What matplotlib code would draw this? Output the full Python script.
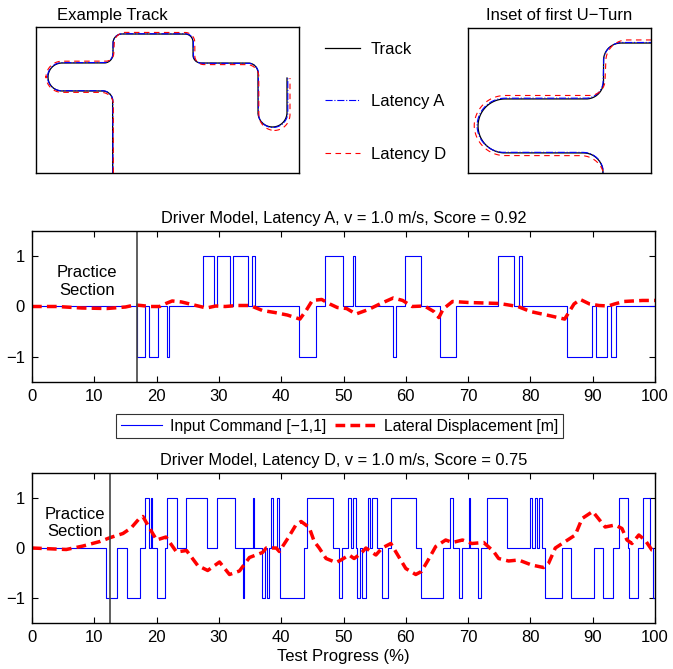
import numpy as np
import matplotlib.pyplot as plt
from matplotlib.lines import Line2D

plt.rcParams['font.family'] = ['Liberation Sans', 'DejaVu Sans']
plt.rcParams['font.size'] = 12

# ---- track geometry: corner points and fillet radius at each corner ----
track_x = [76.7, 76.7, 12, 12, 77, 77, 157, 157, 222, 222, 251, 251]
track_y = [0, 82, 82, 110, 110, 139, 139, 110, 110, 46, 46, 95]
track_r = [0, 10, 14, 14, 9, 9, 8, 8, 10, 14.5, 14.5, 0]

latA_x = [76.9, 76.9, 11.5, 11.5, 76.6, 77.3, 157.4, 157.4, 222.4, 222.4, 251.8, 251.8]
latA_y = [0, 82.3, 82.3, 110.4, 110.4, 139.3, 139.3, 109.7, 109.7, 45.5, 45.5, 95]
latA_r = [0, 10.5, 14, 14.5, 9, 9.5, 8, 8.5, 10, 14.5, 15, 0]

latD_x = [77.4, 77.4, 10.0, 10.0, 77.5, 78.6, 158.8, 158.8, 222.8, 222.8, 254.0, 254.0]
latD_y = [0, 80.6, 80.6, 111.8, 111.8, 140.6, 140.6, 108.4, 108.4, 42.5, 42.5, 95]
latD_r = [0, 12, 16, 16, 8, 11, 10, 9, 12, 16, 16, 0]

# ---- driver model, latency A ----
midA_t = [0, 16.9, 18.1, 18.8, 20.2, 21.6, 22.0, 27.5, 29.2, 29.75, 31.8, 32.3, 34.6,
          35.3, 35.85, 42.9, 45.6, 47.0, 49.84, 51.45, 51.9, 57.9, 58.4, 59.8, 62.4,
          65.5, 68.0, 74.8, 77.3, 78.2, 78.7, 85.9, 89.9, 90.5, 92.3, 93.0, 93.7, 100]
midA_cmd = [0, -1, 0, -1, 0, -1, 0, 1, 0, 1, 0, 1, 0,
            1, 0, -1, 0, 1, 0, 1, 0, -1, 0, 1, 0,
            -1, 0, 1, 0, 1, 0, -1, 0, -1, 0, -1, 0, 0]
midA_px = [0, 4, 8, 12, 15, 16.5, 17.5, 19, 20.5, 21.5, 22.5, 24, 26, 28, 29.5, 31, 33,
           35, 37, 39, 41, 43, 44, 45, 46.5, 47.8, 49, 50.5, 52, 54, 56, 58, 59.5, 61,
           63, 64.5, 65.3, 66, 67.5, 70, 75, 78, 80, 83, 85.5, 87, 88, 89.5, 91, 92.5,
           93.5, 95, 98, 100]
midA_disp = [0, 0, -0.03, -0.04, -0.01, 0.03, 0.02, 0.0, 0.0, 0.06, 0.11, 0.09, 0.03,
             -0.03, 0.01, 0.0, 0.02, 0.02, -0.08, -0.12, -0.17, -0.25, -0.08, 0.12,
             0.14, 0.05, -0.02, -0.04, -0.15, -0.06, 0.06, 0.17, 0.12, 0.0, 0.01, -0.1,
             -0.22, -0.05, 0.1, 0.08, 0.06, 0.0, -0.1, -0.18, -0.25, 0.05, 0.14, 0.05,
             0.02, 0.01, 0.05, 0.1, 0.12, 0.12]

# ---- driver model, latency D ----
botD_t = [0, 11.9, 13.7, 15.3, 17.3, 18.1, 18.8, 19.05, 19.2, 20.0,
          21.4, 21.7, 23.3, 24.7, 28.1, 29.7, 32.6, 33.8, 34.1, 35.4,
          35.7, 36.9, 37.4, 37.8, 38.1, 38.4, 38.7, 39.3, 39.6, 39.8,
          43.6, 44.2, 48.3, 49.3, 49.7, 50.7, 51.2, 51.5, 52.0, 52.2,
          52.7, 52.9, 53.6, 54.0, 54.3, 54.5, 55.4, 56.1, 57.1, 57.7,
          61.7, 62.5, 66.0, 67.1, 67.5, 68.6, 69.0, 70.2, 70.35, 71.6,
          72.0, 73.1, 76.3, 79.9, 80.2, 80.8, 81.0, 81.4, 81.9, 82.3,
          85.1, 86.5, 90.2, 91.6, 93.3, 94.2, 95.6, 95.8, 97.3, 98.0,
          99.2, 99.6, 100]
botD_cmd = [0, -1, 0, -1, 0, 1, 0, 1, 0, -1,
            0, 1, 0, 1, 0, 1, 0, -1, 0, 1,
            0, -1, 0, -1, 0, 1, 0, 1, 0, -1,
            0, 1, 0, -1, 0, 1, 0, 1, 0, -1,
            0, -1, 0, 1, 0, 1, 0, -1, 0, 1,
            0, -1, 0, 1, 0, -1, 0, 1, 0, -1,
            0, 1, 0, 1, 0, 1, 0, 1, 0, -1,
            0, -1, 0, -1, 0, 1, 0, -1, 0, 1,
            0, -1, -1]
botD_px = [0, 5.5, 8.2, 10.9, 12.6, 14.6, 15.9, 17.3, 17.8, 18.9,
           20.0, 21.5, 23.2, 24.8, 26.6, 28.2, 30.1, 31.7, 33.3, 34.9,
           37.0, 37.6, 39.2, 39.7, 41.1, 42.4, 43.2, 44.5, 45.3, 46.1,
           47.2, 48.8, 49.6, 50.9, 51.7, 52.8, 53.6, 55.2, 56.2, 57.6,
           58.7, 60.0, 61.6, 62.5, 63.5, 64.8, 66.4, 67.5, 69.1, 70.6,
           72.5, 74.1, 74.9, 76.5, 78.1, 80.2, 82.1, 82.9, 84.0, 85.6,
           87.2, 88.3, 90.0, 92.0, 93.6, 94.7, 95.5, 96.3, 97.4, 98.4,
           99.5, 100]
botD_disp = [0, -0.03, 0.04, 0.13, 0.21, 0.29, 0.4, 0.6, 0.63, 0.39,
             0.16, 0.22, -0.08, -0.05, -0.35, -0.45, -0.28, -0.53, -0.46, -0.19,
             -0.09, 0.0, 0.0, -0.07, 0.2, 0.47, 0.53, 0.41, 0.13, 0.0,
             -0.21, -0.29, -0.24, -0.14, -0.21, -0.11, 0.0, -0.14, 0.0, 0.09,
             -0.14, -0.41, -0.53, -0.47, -0.26, 0.03, 0.16, 0.11, 0.16, 0.09,
             0.11, -0.07, -0.21, -0.26, -0.24, -0.34, -0.39, -0.31, 0.0, 0.13,
             0.26, 0.59, 0.73, 0.42, 0.46, 0.39, 0.16, 0.09, 0.26, 0.16,
             -0.04, -0.05]

practice_A = 16.9
practice_D = 12.6


def fillet_path(xs, ys, rs, n=24):
    # polyline with rounded corners
    pts = np.column_stack([xs, ys]).astype(float)
    out = [pts[0]]
    for i in range(1, len(pts) - 1):
        p, a, b = pts[i], pts[i - 1], pts[i + 1]
        r = rs[i]
        u1 = (a - p) / np.linalg.norm(a - p)
        u2 = (b - p) / np.linalg.norm(b - p)
        cosang = np.clip(np.dot(u1, u2), -1, 1)
        ang = np.arccos(cosang)
        if r <= 0 or ang > np.pi - 1e-3:
            out.append(p)
            continue
        d = r / np.tan(ang / 2)
        bis = (u1 + u2) / np.linalg.norm(u1 + u2)
        c = p + bis * r / np.sin(ang / 2)
        s = p + u1 * d
        e = p + u2 * d
        a0 = np.arctan2(s[1] - c[1], s[0] - c[0])
        a1 = np.arctan2(e[1] - c[1], e[0] - c[0])
        da = (a1 - a0 + np.pi) % (2 * np.pi) - np.pi
        th = a0 + np.linspace(0, da, n)
        out.extend(np.column_stack([c[0] + r * np.cos(th), c[1] + r * np.sin(th)]))
    out.append(pts[-1])
    out = np.array(out)
    return out[:, 0], out[:, 1]


fig = plt.figure(figsize=(6.73, 6.69), dpi=100)

paths = [(track_x, track_y, track_r, dict(color='k', lw=0.9, ls='-')),
         (latA_x, latA_y, latA_r, dict(color='b', lw=0.8, ls='-.')),
         (latD_x, latD_y, latD_r, dict(color='r', lw=0.8, ls=(0, (5, 4))))]

ax1 = fig.add_axes([36 / 673, 1 - 173 / 669, 263 / 673, 146 / 669])
ax2 = fig.add_axes([468 / 673, 1 - 173 / 669, 183 / 673, 145 / 669])
for ax in (ax1, ax2):
    for xs, ys, rs, st in paths:
        px, py = fillet_path(xs, ys, rs)
        ax.plot(px, py, **st)
    ax.set_xticks([])
    ax.set_yticks([])
    for sp in ax.spines.values():
        sp.set_linewidth(1.0)
ax1.set_xlim(0, 263)
ax1.set_ylim(0, 146)
ax1.set_title('Example Track', fontsize=12, pad=5, x=(112.5 - 36) / 263)
ax2.set_xlim(6.8, 101.6)
ax2.set_ylim(71.6, 146.8)
ax2.set_title('Inset of first U\u2212Turn', fontsize=12, pad=6)

leg_handles = [Line2D([], [], color='k', lw=0.9),
               Line2D([], [], color='b', lw=0.8, ls='-.'),
               Line2D([], [], color='r', lw=0.8, ls=(0, (5, 4)))]
fig.legend(leg_handles, ['Track', 'Latency A', 'Latency D'], loc='center left',
           bbox_to_anchor=(325 / 673, 1 - 101.5 / 669), frameon=False,
           borderaxespad=0, borderpad=0,
           labelspacing=2.25, handlelength=2.1, handletextpad=0.65, fontsize=12)


def driver_panel(ax, t, cmd, px, disp, practice, text_x, title):
    ax.step(t, cmd, where='post', color='b', lw=0.8)
    ax.plot(px, disp, color='r', lw=2.5, ls=(0, (2.8, 1.5)))
    ax.axvline(practice, color='#444444', lw=1.2)
    ax.text(text_x, 0.5, 'Practice\nSection', ha='center', va='center',
            fontsize=12, linespacing=1.2)
    ax.set_xlim(0, 100)
    ax.set_ylim(-1.5, 1.5)
    ax.set_xticks(np.arange(0, 101, 10))
    ax.set_yticks([-1, 0, 1])
    ax.tick_params(direction='in', top=True, right=True, length=4, width=0.8,
                   labelsize=12, pad=5)
    ax.set_title(title, fontsize=11.8, pad=6)
    for sp in ax.spines.values():
        sp.set_linewidth(1.0)


ax3 = fig.add_axes([32 / 673, 1 - 382 / 669, 623 / 673, 151 / 669])
driver_panel(ax3, midA_t, midA_cmd, midA_px, midA_disp, practice_A, 8.8,
             'Driver Model, Latency A, v = 1.0 m/s, Score = 0.92')

ax4 = fig.add_axes([32 / 673, 1 - 623 / 669, 623 / 673, 150 / 669])
driver_panel(ax4, botD_t, botD_cmd, botD_px, botD_disp, practice_D, 6.9,
             'Driver Model, Latency D, v = 1.0 m/s, Score = 0.75')
ax4.set_xlabel('Test Progress (%)', fontsize=12, labelpad=3)

cmd_handles = [Line2D([], [], color='b', lw=0.8),
               Line2D([], [], color='r', lw=2.5, ls=(0, (2.8, 1.5)))]
lg = fig.legend(cmd_handles, ['Input Command [\u22121,1]', 'Lateral Displacement [m]'],
                loc='center', bbox_to_anchor=(339.5 / 673, 1 - 426 / 669), ncol=2,
                fontsize=11.3, frameon=True, fancybox=False, handlelength=2.6,
                handletextpad=0.5, columnspacing=0.6, borderpad=0.3)
lg.get_frame().set_edgecolor('k')
lg.get_frame().set_linewidth(0.8)

fig.savefig('out.png', dpi=100)
